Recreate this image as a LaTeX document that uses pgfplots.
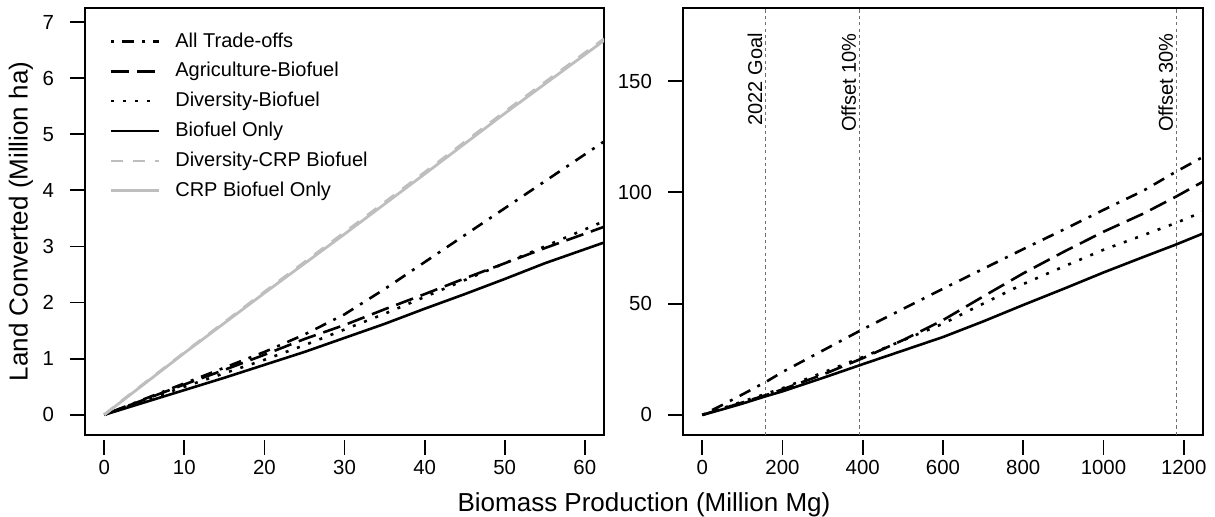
\documentclass[border=0pt]{standalone}
\usepackage{pgfplots}
\pgfplotsset{compat=1.18}
\usepackage{fontspec}
\setmainfont{Liberation Sans}
\definecolor{crpgray}{RGB}{190,190,190}
\definecolor{refgray}{RGB}{110,110,110}
\begin{document}
\fontsize{10pt}{12pt}\selectfont
\begin{tikzpicture}
\useasboundingbox (0,0) rectangle (607.5pt,258.5pt);
\pgfplotsset{
  rstyle/.style={
    scale only axis, height=213.5pt, anchor=south west,
    axis line style={line width=1.2pt},
    tick align=outside, major tick length=7.5pt,
    every tick/.style={black, line width=0.9pt},
    xtick style={yshift=-2.5pt},
    xticklabel style={yshift=-1.5pt},
    yticklabel style={xshift=-4.5pt},
    tick label style={font=\fontsize{10.2pt}{12pt}\selectfont},
    /pgf/number format/assume math mode=true,
    /pgf/number format/1000 sep={},
    tick pos=left,
  },
  dotdash/.style={black, line width=1.3pt, dash pattern=on 1.5pt off 4pt on 6pt off 4pt},
  longdash/.style={black, line width=1.3pt, dash pattern=on 9pt off 4pt},
  dotted line/.style={black, line width=1.3pt, dash pattern=on 1.5pt off 4.5pt},
  solid line/.style={black, line width=1.3pt},
  graydash/.style={crpgray, line width=1.4pt, dash pattern=on 6pt off 5pt},
  graysolid/.style={crpgray, line width=1.4pt},
}
% left panel
\begin{axis}[rstyle, at={(42.5pt,41pt)}, width=259.5pt,
  xmin=-2.4, xmax=62.4, ymin=-0.36, ymax=7.25,
  xtick={0,10,...,60}, ytick={0,1,...,7},
  legend style={draw=none, fill=none, at={(0.035,0.962)}, anchor=north west,
    font=\fontsize{10pt}{12pt}\selectfont, row sep=2.2pt,
    /tikz/every odd column/.append style={column sep=5.5pt}},
  legend cell align=left,
  legend image code/.code={\draw[#1] (0pt,0pt) -- (24pt,0pt);},
]
\addplot[dotdash] coordinates {(0,0)(5,0.28)(10,0.56)(15,0.84)(20,1.12)(25,1.43)(30,1.79)(35,2.24)(40,2.72)(45,3.2)(50,3.68)(55,4.16)(62.4,4.87)};
\addlegendentry{All Trade-offs}
\addplot[longdash] coordinates {(0,0)(5,0.27)(10,0.54)(15,0.8)(20,1.07)(25,1.35)(30,1.6)(35,1.88)(40,2.15)(45,2.43)(50,2.7)(55,2.97)(62.4,3.35)};
\addlegendentry{Agriculture-Biofuel}
\addplot[dotted line] coordinates {(0,0)(5,0.25)(10,0.5)(15,0.74)(20,0.98)(25,1.24)(30,1.52)(35,1.8)(40,2.1)(45,2.4)(50,2.7)(55,3.0)(62.4,3.45)};
\addlegendentry{Diversity-Biofuel}
\addplot[solid line] coordinates {(0,0)(5,0.22)(10,0.44)(15,0.66)(20,0.89)(25,1.12)(30,1.37)(35,1.62)(40,1.89)(45,2.15)(50,2.42)(55,2.7)(62.4,3.07)};
\addlegendentry{Biofuel Only}
\addplot[graydash] coordinates {(0,0)(2,0.23)(5,0.56)(10,1.11)(20,2.19)(30,3.25)(40,4.32)(50,5.4)(62.4,6.7)};
\addlegendentry{Diversity-CRP Biofuel}
\addplot[graysolid] coordinates {(0,0)(2,0.22)(5,0.55)(10,1.1)(20,2.17)(30,3.22)(40,4.29)(50,5.37)(62.4,6.67)};
\addlegendentry{CRP Biofuel Only}
\end{axis}
% right panel
\begin{axis}[rstyle, at={(341.5pt,41pt)}, width=260pt,
  xmin=-48, xmax=1248, ymin=-9, ymax=182.8,
  xtick={0,200,...,1200}, ytick={0,50,100,150},
]
\addplot[refgray, line width=0.7pt, dash pattern=on 1.6pt off 1.6pt] coordinates {(158,-9)(158,182.8)};
\addplot[refgray, line width=0.7pt, dash pattern=on 1.6pt off 1.6pt] coordinates {(392,-9)(392,182.8)};
\addplot[refgray, line width=0.7pt, dash pattern=on 1.6pt off 1.6pt] coordinates {(1182,-9)(1182,182.8)};
\node[rotate=90, anchor=south east, inner sep=1.5pt] at (axis cs:158,173) {2022 Goal};
\node[rotate=90, anchor=south east, inner sep=1.5pt] at (axis cs:392,173) {Offset 10\%};
\node[rotate=90, anchor=south east, inner sep=1.5pt] at (axis cs:1182,173) {Offset 30\%};
\addplot[dotdash] coordinates {(0,0)(50,4.5)(100,9.2)(160,15)(200,19.3)(300,28.9)(400,38.5)(500,47.6)(600,56.7)(700,65.6)(800,74.5)(900,83.2)(1000,92.1)(1100,100.8)(1180,109.2)(1248,115.9)};
\addplot[longdash] coordinates {(0,0)(50,2.8)(100,5.6)(160,9)(200,11.5)(300,18.1)(400,25.5)(500,33.6)(600,42.6)(700,53.2)(800,63.6)(900,73.2)(1000,82.3)(1100,90.5)(1180,98)(1248,104.8)};
\addplot[dotted line] coordinates {(0,0)(50,3)(100,6)(160,9.6)(200,12)(300,19)(400,26)(500,33.5)(600,41)(700,50)(800,58.8)(900,66.6)(1000,74.2)(1100,80.8)(1180,86.2)(1248,91.3)};
\addplot[solid line] coordinates {(0,0)(50,2.5)(100,5.1)(160,8.5)(200,10.6)(300,16.6)(400,22.8)(500,28.9)(600,35)(700,42)(800,49.4)(900,56.6)(1000,64)(1100,71)(1180,76.5)(1248,81.5)};
\end{axis}
\node[rotate=90, font=\fontsize{13pt}{15pt}\selectfont] at (10.5pt,147.75pt) {Land Converted (Million ha)};
\node[font=\fontsize{13pt}{15pt}\selectfont] at (322pt,6pt) {Biomass Production (Million Mg)};
\end{tikzpicture}
\end{document}
